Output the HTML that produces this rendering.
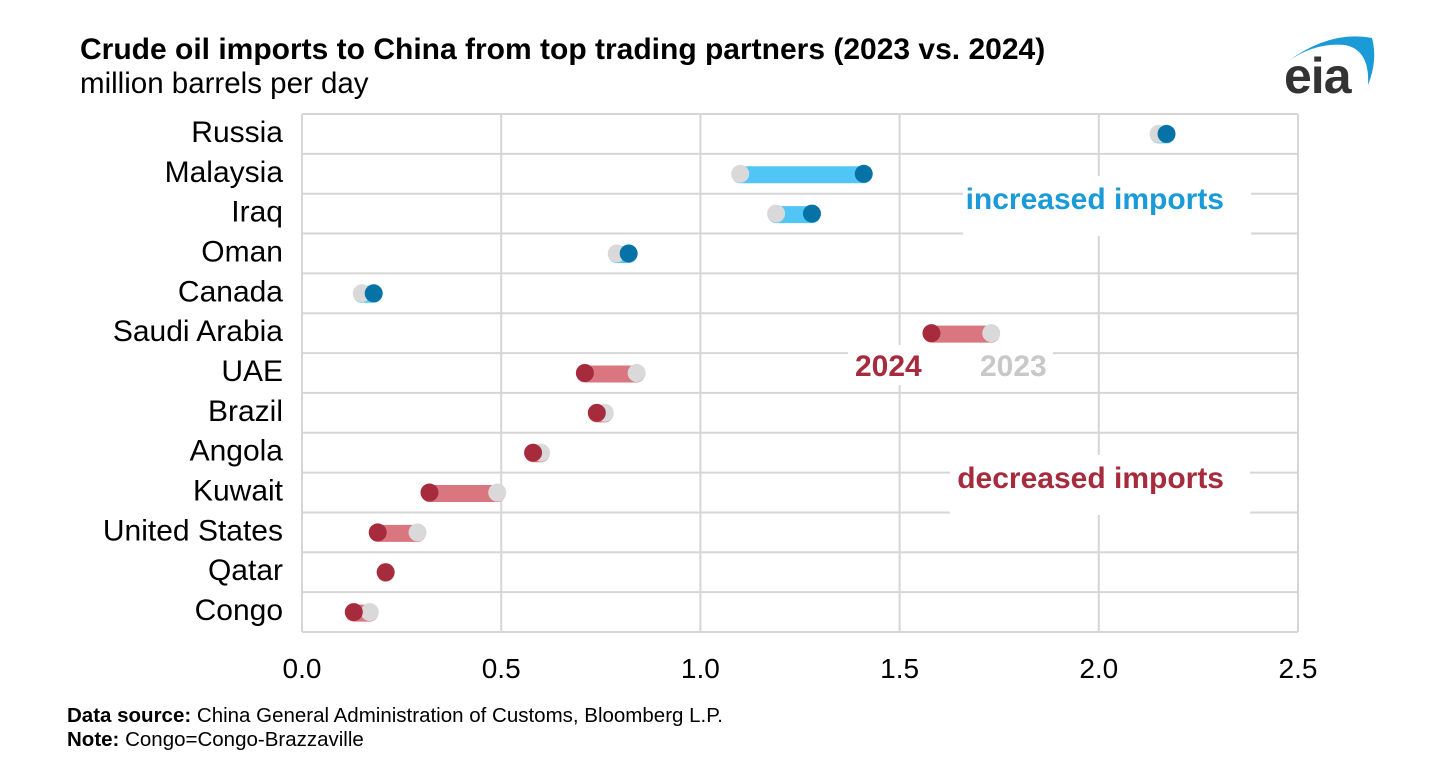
<!DOCTYPE html>
<html><head><meta charset="utf-8"><style>
body{margin:0;background:#fff;font-family:"Liberation Sans",sans-serif;}
</style></head><body>
<svg width="1456" height="773" viewBox="0 0 1456 773" xmlns="http://www.w3.org/2000/svg">
<text x="80" y="59" font-size="30" font-weight="bold" fill="#000">Crude oil imports to China from top trading partners (2023 vs. 2024)</text>
<text x="80" y="93" font-size="29.5" fill="#000">million barrels per day</text>
<g>
<path d="M1287 62 Q1330 30 1372 38 Q1378 60 1368 85 Q1370 50 1345 45 Q1315 42 1287 62Z" fill="#1a9ad6"/>
<text x="1284" y="93" font-size="50" font-weight="bold" fill="#333" letter-spacing="-1">eia</text>
</g>
<g id="grid"></g>
<g id="marks"></g>
<rect x="963" y="176" width="288" height="60" fill="#fff"/>
<text x="1224" y="209" font-size="30" font-weight="bold" fill="#1a9ad6" text-anchor="end">increased imports</text>
<rect x="848" y="345" width="205" height="40" fill="#fff"/>
<text x="855" y="376" font-size="30" font-weight="bold" fill="#a62b3d">2024</text>
<text x="980" y="376" font-size="30" font-weight="bold" fill="#c8c8c8">2023</text>
<rect x="950" y="455" width="300" height="60" fill="#fff"/>
<text x="1224" y="488" font-size="30" font-weight="bold" fill="#a62b3d" text-anchor="end">decreased imports</text>
<text x="67" y="722" font-size="20.5" fill="#000"><tspan font-weight="bold">Data source:</tspan> China General Administration of Customs, Bloomberg L.P.</text>
<text x="67" y="746" font-size="20.5" fill="#000"><tspan font-weight="bold">Note:</tspan> Congo=Congo-Brazzaville</text>
</svg>
<script>
const categories=["Russia","Malaysia","Iraq","Oman","Canada","Saudi Arabia","UAE","Brazil","Angola","Kuwait","United States","Qatar","Congo"];
const values2023=[2.15,1.10,1.19,0.79,0.15,1.73,0.84,0.76,0.60,0.49,0.29,0.21,0.17];
const values2024=[2.17,1.41,1.28,0.82,0.18,1.58,0.71,0.74,0.58,0.32,0.19,0.21,0.13];
const xTicks=[0,0.5,1,1.5,2,2.5];
const xTickLabels=["0.0","0.5","1.0","1.5","2.0","2.5"];
const NS="http://www.w3.org/2000/svg";
const L=302,R=1298,T=114,B=632,rowH=(B-T)/categories.length;
const x=v=>L+(R-L)*v/2.5;
const y=i=>T+rowH*(i+0.5);
function mk(tag,attrs,parent,txt){const e=document.createElementNS(NS,tag);for(const k in attrs)e.setAttribute(k,attrs[k]);if(txt!=null)e.textContent=txt;parent.appendChild(e);return e;}
const grid=document.getElementById('grid'),marks=document.getElementById('marks');
for(let i=0;i<=categories.length;i++){const l=mk('line',{x1:L,x2:R,y1:T+rowH*i,y2:T+rowH*i,stroke:'#d6d6d6','stroke-width':2},grid);

}
xTicks.forEach((t,i)=>{const l=mk('line',{x1:x(t),x2:x(t),y1:T,y2:B,stroke:'#d6d6d6','stroke-width':2},grid);


const tx=mk('text',{x:x(t),y:678,'font-size':28,'text-anchor':'middle',fill:'#000'},grid,xTickLabels[i]);

});
categories.forEach((c,i)=>{const tx=mk('text',{x:283,y:y(i)+8,'font-size':30,'text-anchor':'end',fill:'#000'},grid,c);


const a=values2023[i],b=values2024[i],inc=b>a;
const g=mk('g',{},marks);


const bar=mk('line',{x1:x(a),x2:x(b),y1:y(i)+1,y2:y(i)+1,stroke:inc?'#52c5f7':'#d9767f','stroke-width':17,'stroke-linecap':'round'},g);


const d1=mk('circle',{cx:x(a),cy:y(i),r:9,fill:'#d9d9d9'},g);


const d2=mk('circle',{cx:x(b),cy:y(i),r:9,fill:inc?'#0672a6':'#a62b3d'},g);

});
</script>
</body></html>
